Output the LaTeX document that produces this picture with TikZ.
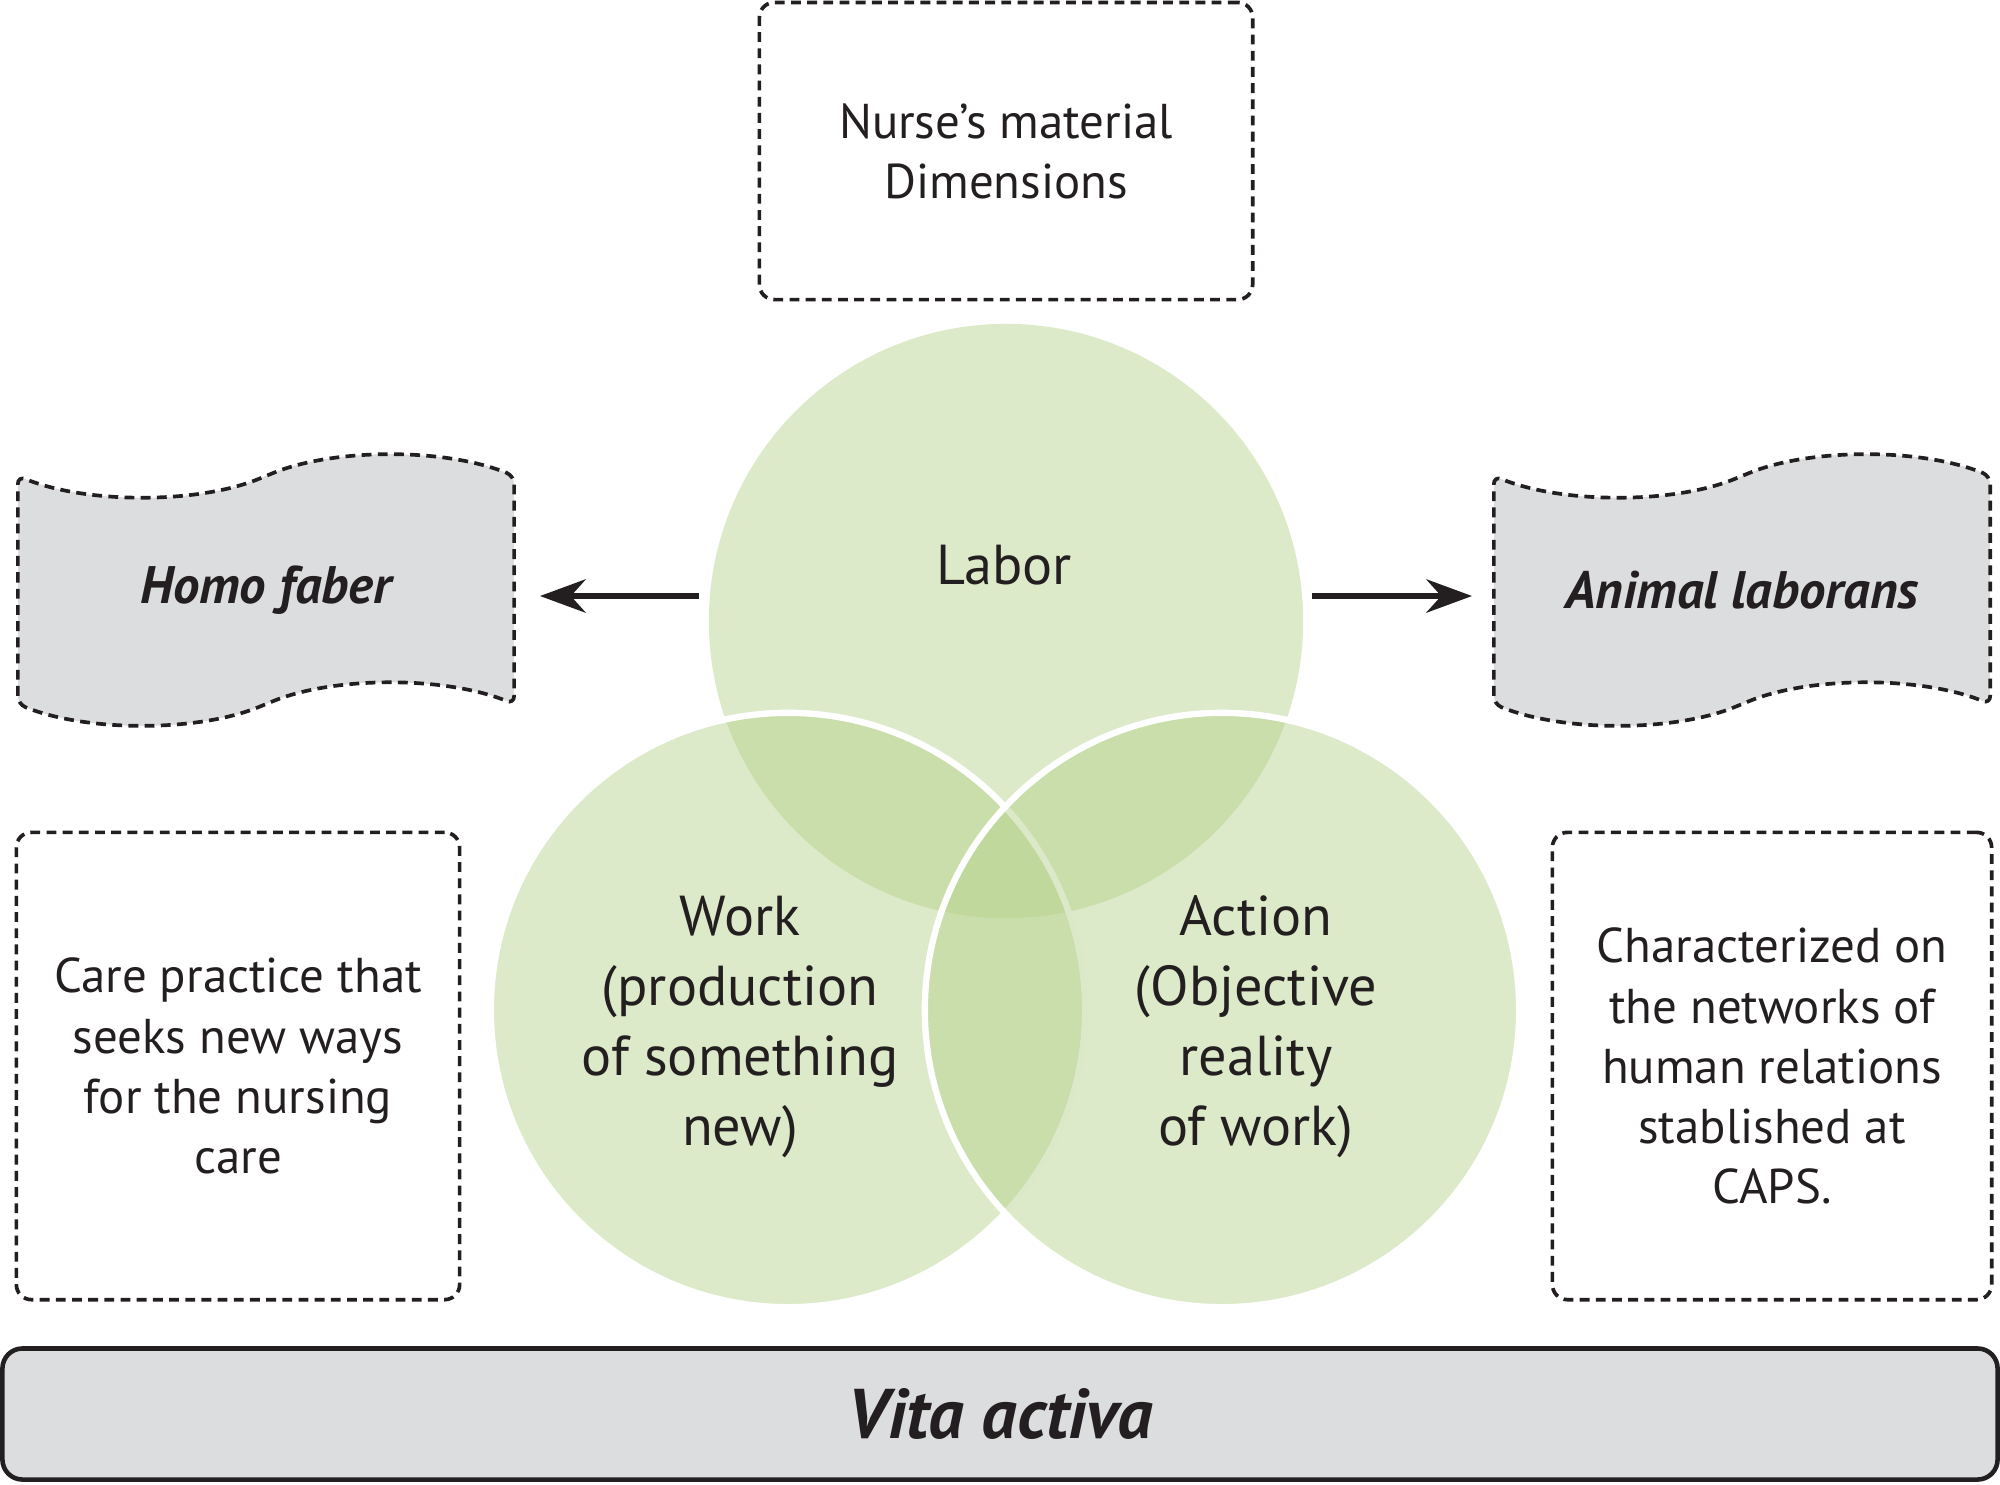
\documentclass[tikz,border=0pt]{standalone}
\usepackage{fontspec}
\setmainfont{PT Sans}
\usetikzlibrary{positioning,shapes.symbols,arrows.meta}
\definecolor{vennGreen}{RGB}{179,208,135}
\definecolor{paneGray}{RGB}{220,221,223}
\definecolor{inkBlack}{RGB}{35,31,32}
\newcommand{\boxFont}{\fontsize{13.9}{17.1}\selectfont}
\newcommand{\vennFont}{\fontsize{16}{19.9}\selectfont}
\tikzstyle{dashLine}=[draw=inkBlack,line width=1.05pt,dash pattern=on 2.8pt off 1.8pt]
\tikzstyle{dashBox}=[dashLine,rounded corners=0.15cm,inner sep=0pt,align=center,text=inkBlack,font=\boxFont]
\tikzstyle{tapeBox}=[tape,dashLine,rounded corners=0.08cm,fill=paneGray,minimum width=4.96cm,minimum height=2.7cm,tape bend height=0.42cm,text=inkBlack,font=\fontsize{15}{18}\selectfont\bfseries\itshape]
\tikzstyle{vennSet}=[circle,minimum size=5.94cm,inner sep=0pt,fill=vennGreen,fill opacity=.45]
\tikzstyle{vennRim}=[vennSet,draw=white,line width=1.8pt]
\tikzstyle{vennLabel}=[align=center,text=inkBlack,font=\vennFont]
\tikzstyle{linkArrow}=[draw=inkBlack,line width=1.5pt,-{Stealth[length=13pt,width=9.5pt]}]

\begin{document}
\begin{tikzpicture}[x=0.01cm,y=-0.01cm]
\useasboundingbox (0,0) rectangle (2000,1484);
% the three sets
        \node[vennSet] (labor) at (1006,621) {};
        \node[vennRim] (work) at (788,1010) {};
        \node[vennRim] (action) at (1222,1010) {};
        \node[vennLabel] (laborText) at (1004,565) {Labor};
        \node[vennLabel] (workText) at (740,1027) 
        {Work\\(production\\of something\\new)};
        \node[vennLabel] (actionText) at (1256,1027) 
        {Action\\(Objective\\reality\\of work)};
% boxes
        \node[dashBox,minimum width=4.93cm,minimum height=2.97cm] 
        (nurse) at (1006,151) 
        {Nurse’s material\\Dimensions};
        \node[dashBox,minimum width=4.43cm,minimum height=4.67cm] 
        (care) at (238,1066) 
        {Care practice that\\seeks new ways\\for the nursing\\care};
        \node[dashBox,minimum width=4.39cm,minimum height=4.67cm] 
        (networks) at (1772,1066) 
        {Characterized on\\the networks of\\human relations\\stablished at\\CAPS.};
        \node[tapeBox] (faber) at (266,590) {Homo faber};
        \node[tapeBox] (laborans) at (1742,590) {Animal laborans};
        \node[draw=inkBlack,line width=1.3pt,fill=paneGray,rounded corners=0.2cm,
        minimum width=19.94cm,minimum height=1.31cm,text=inkBlack,
        font=\fontsize{20}{24}\selectfont\bfseries\itshape] 
        (vita) at (1000,1414) {Vita activa};
% arrows
        \draw[linkArrow,shorten <=0.09cm,shorten >=0.24cm] 
        ([yshift=-0.06cm]faber.east -| labor.west) -- ([yshift=-0.06cm]faber.east);
        \draw[linkArrow,shorten <=0.08cm,shorten >=0.2cm] 
        ([yshift=-0.06cm]laborans.west -| labor.east) -- ([yshift=-0.06cm]laborans.west);
\end{tikzpicture}
\end{document}
